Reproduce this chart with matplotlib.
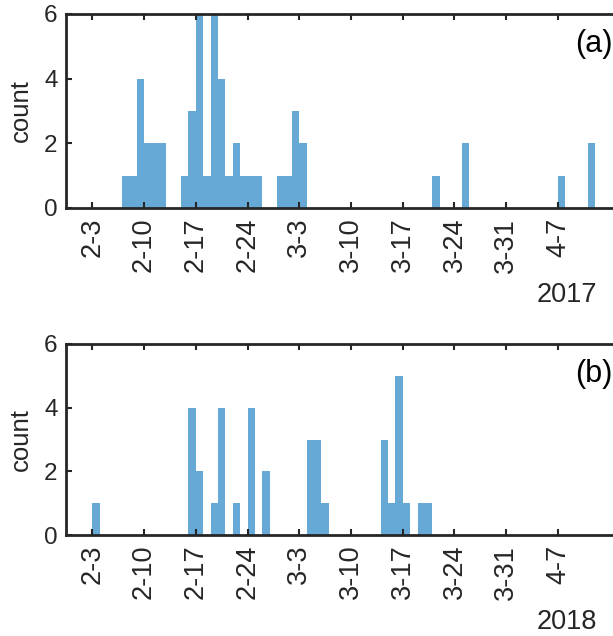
import numpy as np
import matplotlib
matplotlib.use('Agg')
import matplotlib.pyplot as plt
from datetime import date

plt.rcParams['font.family'] = ['Liberation Sans', 'DejaVu Sans']

# bin start dates (month-day) and counts per one-day bin
dates_2017 = ['2-7', '2-8', '2-9', '2-10', '2-11', '2-12', '2-15', '2-16', '2-17',
              '2-18', '2-19', '2-20', '2-21', '2-22', '2-23', '2-24', '2-25',
              '2-28', '3-1', '3-2', '3-3', '3-21', '3-25', '4-7', '4-11']
counts_2017 = [1, 1, 4, 2, 2, 2, 1, 3, 6,
               1, 6, 4, 1, 2, 1, 1, 1,
               1, 1, 3, 2, 1, 2, 1, 2]

dates_2018 = ['2-3', '2-16', '2-17', '2-19', '2-20', '2-22', '2-24', '2-26',
              '3-4', '3-5', '3-6', '3-14', '3-15', '3-16', '3-17', '3-19', '3-20']
counts_2018 = [1, 4, 2, 1, 4, 1, 4, 2,
               3, 3, 1, 3, 1, 5, 1, 1, 1]

tick_labels = ['2-3', '2-10', '2-17', '2-24', '3-3', '3-10', '3-17', '3-24', '3-31', '4-7']


def doy(s, year):
    m, d = map(int, s.split('-'))
    return date(year, m, d).timetuple().tm_yday


W, H = 613, 636
fig = plt.figure(figsize=(W / 100, H / 100), dpi=100)

bar_color = '#66A9D7'
axcol = '#262626'

panels = [
    (dates_2017, counts_2017, 2017, '(a)', 14, 208),
    (dates_2018, counts_2018, 2018, '(b)', 344, 535),
]

for dts, cnts, year, tag, top, bot in panels:
    ax = fig.add_axes([66 / W, 1 - bot / H, (640 - 66) / W, (bot - top) / H])
    x = [doy(s, year) for s in dts]
    ax.bar(x, cnts, width=1.0, align='edge', color=bar_color, linewidth=0)
    ax.set_xlim(30.44, 108.1)
    ax.set_ylim(0, 6)
    ax.set_yticks([0, 2, 4, 6])
    ax.set_xticks([doy(s, year) for s in tick_labels])
    ax.set_xticklabels(tick_labels, rotation=90)
    ax.tick_params(direction='in', length=4, width=1.5, colors=axcol,
                   top=True, right=True)
    ax.tick_params(axis='y', pad=6, labelsize=17.5)
    ax.tick_params(axis='x', pad=7, labelsize=19.5)
    for sp in ax.spines.values():
        sp.set_linewidth(2)
        sp.set_color(axcol)
    ax.set_ylabel('count', fontsize=18.5, color=axcol)
    ax.yaxis.set_label_coords(-0.057, 0.5)
    fig.text(0.9995, 1 - (top + 30) / H, tag, ha='right', va='center',
             fontsize=22, color='black')
    fig.text(597 / W, 1 - (bot + 87) / H, str(year), ha='right', va='center',
             fontsize=19.5, color=axcol)

fig.savefig('out.png', dpi=100)
